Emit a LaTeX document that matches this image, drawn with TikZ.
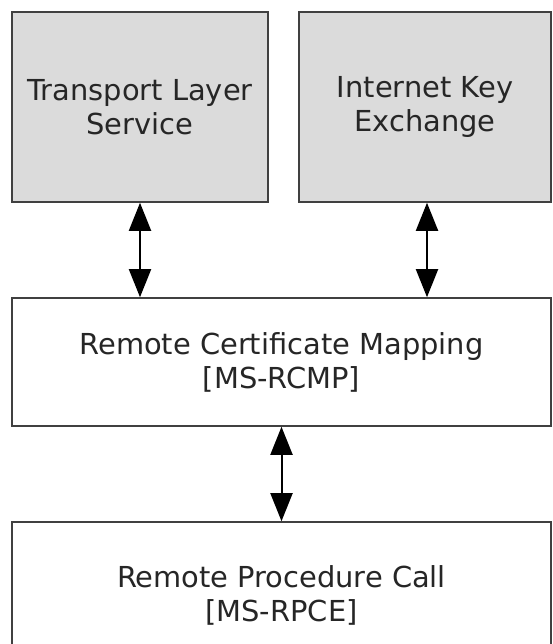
\documentclass[tikz,border=0pt]{standalone}
\usepackage{fontspec}
\setmainfont{DejaVu Sans}
\usetikzlibrary{shapes,arrows.meta,positioning}

\begin{document}
\begin{tikzpicture}[
                x=1bp, y=1bp,
                every node/.style={
                        rectangle,
                        draw=black!75,
                        line width=1.6bp,
                        align=center,
                        font=\fontsize{29}{34}\selectfont,
                        text=black!85,
                        fill=white,
                        inner sep=0pt
                    },
                cinza/.style={fill=black!14},
                seta/.style={{Triangle[width=22bp,length=28bp]}-{Triangle[width=22bp,length=28bp]}, line width=2bp}
            ]

            \useasboundingbox (0,0) rectangle (553,644);

            % Nós principais posicionados manualmente
            \node[cinza, minimum width=256bp, minimum height=190bp] (tls) at (140, 537) {Transport Layer\\Service};
            \node[cinza, minimum width=252bp, minimum height=190bp] (ike) at (425, 537) {Internet Key\\Exchange};
            \node[minimum width=539bp, minimum height=128bp] (rcmp) at (281.5, 282) {Remote Certificate Mapping\\{[MS-RCMP]}};
            \node[minimum width=539bp, minimum height=146bp] (rpce) at (281.5, 49) {Remote Procedure Call\\{[MS-RPCE]}};

            % Setas duplas entre as camadas
            \draw[seta] (tls.south) -- (tls.south |- rcmp.north);
            \draw[seta] ([xshift=2bp]ike.south) -- ([xshift=2bp]ike.south |- rcmp.north);
            \draw[seta] (rcmp.south) -- (rpce.north);

        \end{tikzpicture}
\end{document}
